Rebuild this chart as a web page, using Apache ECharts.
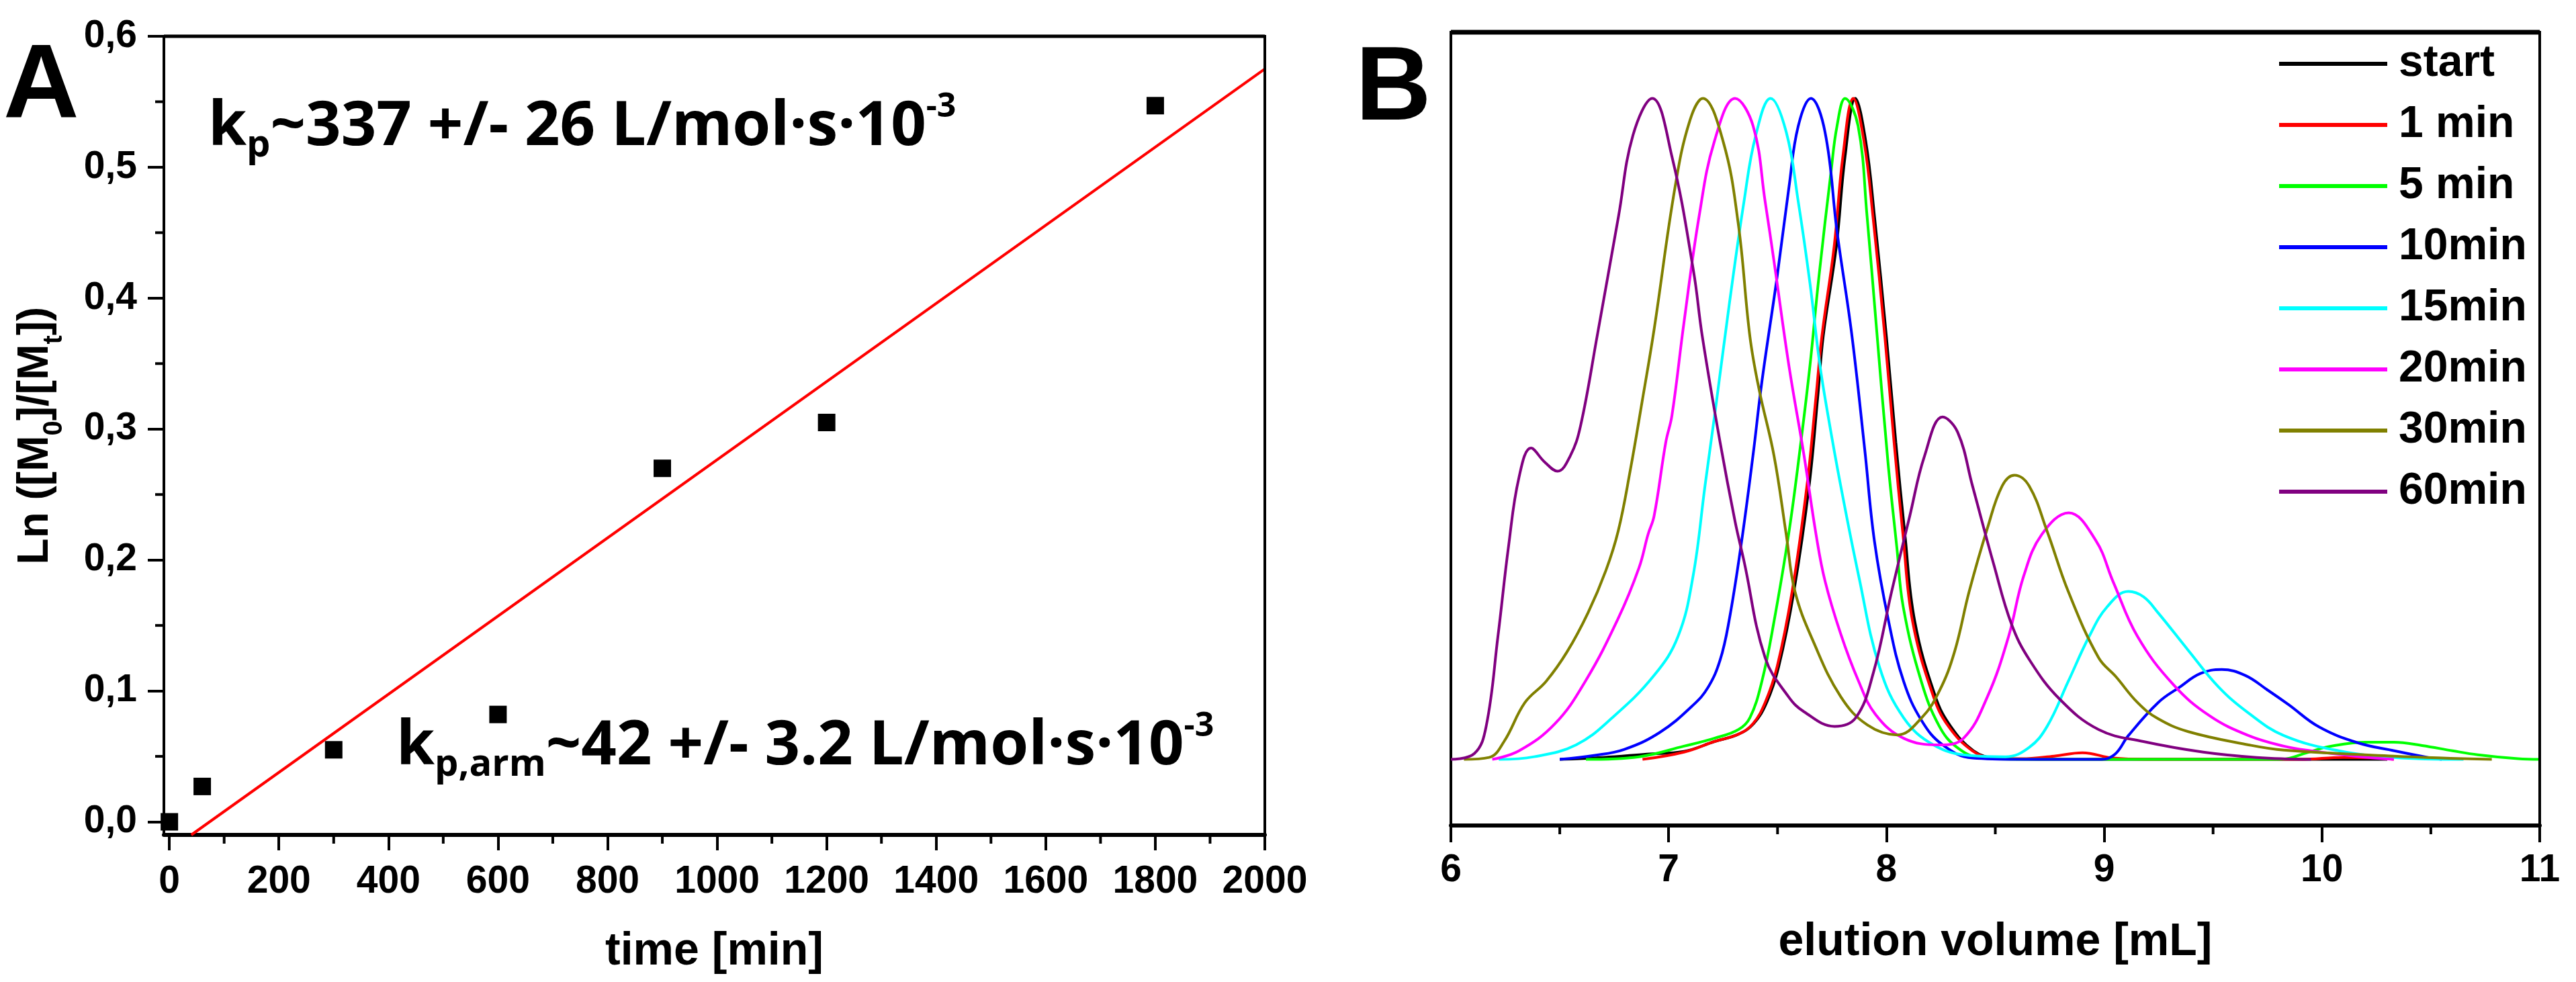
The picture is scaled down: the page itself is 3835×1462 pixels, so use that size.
<!DOCTYPE html>
<html><head><meta charset="utf-8">
<script src="https://cdn.jsdelivr.net/npm/echarts@6/dist/echarts.min.js"></script>
<style>html,body{margin:0;padding:0;background:#fff}#c{width:3835px;height:1462px}</style>
</head><body><div id="c"></div>
<script>
// ---------- Panel A data ----------
const timeMin = [0, 60, 300, 600, 900, 1200, 1800];
const lnRatio = [0, 0.027, 0.055, 0.082, 0.27, 0.305, 0.547];
const fitTime = [40, 2000];
const fitLn = [-0.01, 0.575];
const timeTicks = [0, 200, 400, 600, 800, 1000, 1200, 1400, 1600, 1800, 2000];
const timeMinorTicks = [100, 300, 500, 700, 900, 1100, 1300, 1500, 1700, 1900];
const lnTicks = [0, 0.1, 0.2, 0.3, 0.4, 0.5, 0.6];
const lnMinorTicks = [0.05, 0.15, 0.25, 0.35, 0.45, 0.55];
const tMin = -10, tMax = 2000, lnMin = -0.01, lnMax = 0.6;

// ---------- Panel B data ----------
const seriesNames = ['start', '1 min', '5 min', '10min', '15min', '20min', '30min', '60min'];
const seriesColors = ['#000000', '#ff0000', '#00ff00', '#0000ff', '#00ffff', '#ff00ff', '#808000', '#800080'];
const curveStart = [[6.50,0],[6.70,0.003],[6.90,0.008],[7.07,0.012],[7.21,0.027],[7.32,0.038],[7.39,0.054],[7.45,0.086],[7.505,0.14],[7.575,0.254],[7.645,0.414],[7.685,0.55],[7.71,0.641],[7.77,0.776],[7.81,0.912],[7.857,1.0],[7.905,0.935],[7.945,0.822],[8.0,0.639],[8.043,0.48],[8.085,0.34],[8.13,0.209],[8.225,0.095],[8.295,0.05],[8.40,0.013],[8.50,0.002],[8.7,0],[9.5,0],[10.3,0]];
const curve1 = [[6.88,0],[7.07,0.011],[7.21,0.027],[7.32,0.038],[7.387,0.054],[7.443,0.086],[7.498,0.14],[7.567,0.254],[7.635,0.414],[7.677,0.55],[7.704,0.641],[7.76,0.776],[7.80,0.912],[7.848,1.0],[7.897,0.935],[7.938,0.822],[7.993,0.639],[8.035,0.48],[8.076,0.34],[8.12,0.209],[8.216,0.095],[8.285,0.05],[8.395,0.013],[8.49,0.002],[8.62,0.001],[8.77,0.005],[8.90,0.01],[9.04,0.002],[9.2,0],[9.9,0],[10.1,0.003],[10.25,0.002],[10.33,0]];
const curve5 = [[6.62,0],[6.864,0.004],[7.07,0.02],[7.21,0.032],[7.32,0.045],[7.373,0.063],[7.428,0.118],[7.484,0.209],[7.553,0.345],[7.608,0.482],[7.649,0.596],[7.69,0.73],[7.746,0.89],[7.773,0.958],[7.81,1.0],[7.87,0.958],[7.911,0.822],[7.952,0.662],[8.007,0.45],[8.048,0.32],[8.077,0.231],[8.16,0.118],[8.243,0.05],[8.325,0.018],[8.436,0.002],[8.6,0],[9.8,0],[9.95,0.012],[10.025,0.019],[10.2,0.026],[10.33,0.026],[10.46,0.021],[10.6,0.013],[10.716,0.007],[10.9,0.001],[11.0,0]];
const curve10 = [[6.5,0],[6.657,0.006],[6.795,0.015],[6.96,0.041],[7.112,0.082],[7.181,0.109],[7.236,0.15],[7.277,0.209],[7.332,0.323],[7.387,0.459],[7.428,0.571],[7.498,0.73],[7.553,0.867],[7.595,0.958],[7.653,1.0],[7.718,0.949],[7.773,0.799],[7.84,0.645],[7.90,0.47],[7.945,0.33],[8.01,0.209],[8.079,0.118],[8.161,0.059],[8.258,0.022],[8.395,0.002],[8.6,0],[8.988,0],[9.05,0.008],[9.111,0.036],[9.248,0.086],[9.345,0.109],[9.442,0.13],[9.54,0.136],[9.648,0.127],[9.75,0.105],[9.846,0.083],[9.987,0.049],[10.166,0.025],[10.332,0.013],[10.486,0.003],[10.55,0]];
const curve15 = [[6.22,0],[6.382,0.004],[6.575,0.022],[6.741,0.063],[6.933,0.127],[7.043,0.186],[7.112,0.277],[7.167,0.414],[7.215,0.53],[7.277,0.685],[7.346,0.844],[7.4,0.944],[7.468,1.0],[7.54,0.949],[7.595,0.844],[7.649,0.72],[7.693,0.60],[7.732,0.52],[7.79,0.414],[7.873,0.277],[7.968,0.14],[8.079,0.063],[8.216,0.022],[8.38,0.006],[8.547,0.004],[8.655,0.018],[8.738,0.05],[8.835,0.118],[8.931,0.186],[9.014,0.231],[9.111,0.254],[9.18,0.246],[9.247,0.222],[9.386,0.165],[9.524,0.11],[9.663,0.07],[9.825,0.036],[10.077,0.013],[10.33,0.003],[10.65,0]];
const curve20 = [[6.19,0],[6.313,0.013],[6.478,0.054],[6.617,0.118],[6.768,0.213],[6.864,0.29],[6.905,0.34],[6.933,0.368],[6.987,0.48],[7.015,0.52],[7.07,0.66],[7.14,0.822],[7.21,0.935],[7.305,1.0],[7.388,0.958],[7.443,0.844],[7.484,0.753],[7.553,0.594],[7.622,0.459],[7.677,0.34],[7.718,0.27],[7.79,0.19],[7.87,0.12],[7.95,0.068],[8.079,0.032],[8.244,0.022],[8.354,0.032],[8.464,0.095],[8.561,0.186],[8.63,0.277],[8.713,0.34],[8.837,0.373],[8.96,0.332],[9.042,0.268],[9.153,0.186],[9.318,0.113],[9.484,0.066],[9.663,0.036],[9.825,0.02],[9.948,0.013],[10.15,0.005],[10.33,0]];
const curve30 = [[6.06,0],[6.176,0.003],[6.244,0.027],[6.34,0.086],[6.437,0.118],[6.534,0.163],[6.63,0.222],[6.712,0.286],[6.768,0.345],[6.823,0.436],[6.878,0.541],[6.933,0.65],[7.03,0.867],[7.098,0.967],[7.157,1.0],[7.25,0.935],[7.319,0.812],[7.373,0.64],[7.415,0.56],[7.484,0.459],[7.54,0.34],[7.58,0.254],[7.666,0.177],[7.79,0.095],[7.913,0.052],[8.05,0.037],[8.162,0.063],[8.244,0.104],[8.313,0.163],[8.38,0.254],[8.464,0.35],[8.532,0.414],[8.588,0.43],[8.655,0.414],[8.738,0.345],[8.835,0.254],[8.974,0.154],[9.054,0.125],[9.153,0.086],[9.245,0.062],[9.386,0.042],[9.663,0.022],[9.825,0.014],[10.33,0.005],[10.78,0]];
const curve60 = [[6.0,0],[6.108,0.009],[6.162,0.05],[6.216,0.186],[6.265,0.323],[6.313,0.427],[6.368,0.471],[6.43,0.45],[6.49,0.436],[6.548,0.459],[6.595,0.504],[6.672,0.641],[6.77,0.822],[6.836,0.944],[6.925,1.0],[7.015,0.912],[7.114,0.739],[7.154,0.641],[7.236,0.48],[7.305,0.36],[7.346,0.30],[7.443,0.154],[7.55,0.095],[7.622,0.072],[7.762,0.05],[7.859,0.063],[7.94,0.131],[8.024,0.254],[8.107,0.368],[8.175,0.459],[8.258,0.518],[8.327,0.495],[8.395,0.414],[8.492,0.296],[8.575,0.204],[8.658,0.15],[8.796,0.091],[8.975,0.045],[9.18,0.027],[9.455,0.011],[9.7,0.003],[9.95,0]];
const curves = [curveStart, curve1, curve5, curve10, curve15, curve20, curve30, curve60];
const volMinorTicks = [6.5, 7.5, 8.5, 9.5, 10.5];
const volMin = 6, volMax = 11, sigMin = -0.1, sigMax = 1.1;

const AX = 'Liberation Sans';
const ANN = 'Open Sans';
const commaFmt = v => v.toFixed(1).replace('.', ',');
const plainFmt = v => String(v);

const chart = echarts.init(document.getElementById('c'), null, {renderer: 'canvas'});

const bigLabel = {fontFamily: AX, fontWeight: 'bold', color: '#000'};
const annRich = {
  m: {fontFamily: ANN, fontWeight: 'bold', fontSize: 92, lineHeight: 110, color: '#000'},
  s: {fontFamily: ANN, fontWeight: 'bold', fontSize: 56, lineHeight: 56, verticalAlign: 'bottom', color: '#000'},
  u: {fontFamily: ANN, fontWeight: 'bold', fontSize: 50, lineHeight: 77, verticalAlign: 'top', color: '#000'}
};
const line = w => ({show: true, onZero: false, lineStyle: {color: '#000', width: w}});
const frameSeries = (xi, yi, pts, w) => ({type: 'line', xAxisIndex: xi, yAxisIndex: yi, data: pts,
  symbol: 'none', silent: true, clip: false, z: 10, lineStyle: {color: '#000', width: w}, itemStyle: {color: '#000'}});
const minorSeries = (xi, yi, pts, size, offset) => ({type: 'scatter', xAxisIndex: xi, yAxisIndex: yi, data: pts,
  symbol: 'rect', symbolSize: size, symbolOffset: offset, silent: true, clip: false, z: 10,
  itemStyle: {color: '#000', opacity: 1}});

const option = {
  animation: false,
  backgroundColor: '#fff',
  title: [
    {text: 'A', left: 5, top: 53, padding: 0, textStyle: Object.assign({fontSize: 156, lineHeight: 156}, bigLabel)},
    {text: 'B', left: 2018, top: 57, padding: 0, textStyle: Object.assign({fontSize: 156, lineHeight: 156}, bigLabel)},
    {text: '{m|k}{s|p}{m|~337 +/- 26 L/mol·s·10}{u|-3}', left: 310, top: 135, padding: 0, textStyle: {rich: annRich}},
    {text: '{m|k}{s|p,arm}{m|~42 +/- 3.2 L/mol·s·10}{u|-3}', left: 590, top: 1057, padding: 0, textStyle: {rich: annRich}}
  ],
  legend: {
    data: seriesNames,
    orient: 'vertical',
    left: 3393, top: 62, padding: 0,
    icon: 'rect', itemWidth: 161, itemHeight: 6, itemGap: 25,
    textStyle: {fontFamily: AX, fontWeight: 'bold', fontSize: 66, lineHeight: 60, color: '#000', padding: [0, 0, 0, 12]}
  },
  grid: [
    {left: 244, top: 54, width: 1639, height: 1189, show: true, borderColor: '#000', borderWidth: 4, backgroundColor: 'rgba(0,0,0,0)'},
    {left: 2160, top: 48, width: 1621, height: 1181, show: true, borderColor: '#000', borderWidth: 4, backgroundColor: 'rgba(0,0,0,0)'}
  ],
  xAxis: [
    {gridIndex: 0, type: 'value', min: tMin, max: tMax, position: 'bottom',
     axisLine: line(6),
     axisTick: {show: true, customValues: timeTicks, length: 23, lineStyle: {color: '#000', width: 4}},
     axisLabel: {show: true, customValues: timeTicks, formatter: plainFmt, fontSize: 57, lineHeight: 60, margin: 40, fontFamily: AX, fontWeight: 'bold', color: '#000'},
     splitLine: {show: false}, minorTick: {show: false}, minorSplitLine: {show: false},
     name: 'time [min]', nameLocation: 'middle', nameGap: 134,
     nameTextStyle: {fontSize: 68, lineHeight: 80, fontFamily: AX, fontWeight: 'bold', color: '#000'}},
    {gridIndex: 1, type: 'value', min: volMin, max: volMax, interval: 1, position: 'bottom',
     axisLine: line(6),
     axisTick: {show: true, length: 25, lineStyle: {color: '#000', width: 4}},
     axisLabel: {show: true, formatter: plainFmt, fontSize: 57, lineHeight: 60, margin: 37, fontFamily: AX, fontWeight: 'bold', color: '#000'},
     splitLine: {show: false}, minorTick: {show: false}, minorSplitLine: {show: false},
     name: 'elution volume [mL]', nameLocation: 'middle', nameGap: 134,
     nameTextStyle: {fontSize: 68, lineHeight: 80, fontFamily: AX, fontWeight: 'bold', color: '#000'}}
  ],
  yAxis: [
    {gridIndex: 0, type: 'value', min: lnMin, max: lnMax, position: 'left',
     axisLine: line(4),
     axisTick: {show: true, customValues: lnTicks, length: 24, lineStyle: {color: '#000', width: 4}},
     axisLabel: {show: true, customValues: lnTicks, formatter: commaFmt, fontSize: 57, margin: 40, fontFamily: AX, fontWeight: 'bold', color: '#000'},
     splitLine: {show: false}, minorTick: {show: false}, minorSplitLine: {show: false},
     name: '{m|Ln ([M}{s|0}{m|]/[M}{s|t}{m|])}', nameLocation: 'middle', nameRotate: 90, nameGap: 143,
     nameTextStyle: {rich: {
       m: {fontFamily: AX, fontWeight: 'bold', fontSize: 64, lineHeight: 96, color: '#000'},
       s: {fontFamily: AX, fontWeight: 'bold', fontSize: 40, lineHeight: 40, verticalAlign: 'bottom', color: '#000'}
     }}},
    {gridIndex: 1, type: 'value', min: sigMin, max: sigMax, position: 'left',
     axisLine: line(4), axisTick: {show: false}, axisLabel: {show: false},
     splitLine: {show: false}, minorTick: {show: false}, minorSplitLine: {show: false}}
  ],
  series: [
    frameSeries(0, 0, [[tMin, lnMax], [tMax, lnMax]], 5),
    frameSeries(0, 0, [[tMax, lnMax], [tMax, lnMin]], 4),
    frameSeries(1, 1, [[volMin, sigMax], [volMax, sigMax]], 7),
    frameSeries(1, 1, [[volMax, sigMax], [volMax, sigMin]], 4),
    minorSeries(0, 0, timeMinorTicks.map(v => [v, lnMin]), [4, 13], [0, 6.5]),
    minorSeries(0, 0, lnMinorTicks.map(v => [tMin, v]), [13, 4], [-6.5, 0]),
    minorSeries(1, 1, volMinorTicks.map(v => [v, sigMin]), [4, 13], [0, 6.5]),
    {name: 'fit', type: 'line', xAxisIndex: 0, yAxisIndex: 0, symbol: 'none',
     data: fitTime.map((t, i) => [t, fitLn[i]]),
     lineStyle: {color: '#ff0000', width: 4}, itemStyle: {color: '#ff0000'}, z: 3},
    {name: 'data', type: 'scatter', xAxisIndex: 0, yAxisIndex: 0, symbol: 'rect', symbolSize: 26,
     data: timeMin.map((t, i) => [t, lnRatio[i]]),
     itemStyle: {color: '#000', opacity: 1}, z: 4}
  ].concat(curves.map((c, i) => ({
    name: seriesNames[i], type: 'line', xAxisIndex: 1, yAxisIndex: 1,
    symbol: 'none', smooth: 0.4, data: c,
    lineStyle: {color: seriesColors[i], width: 4}, itemStyle: {color: seriesColors[i]}
  })))
};
chart.setOption(option);
</script></body></html>
